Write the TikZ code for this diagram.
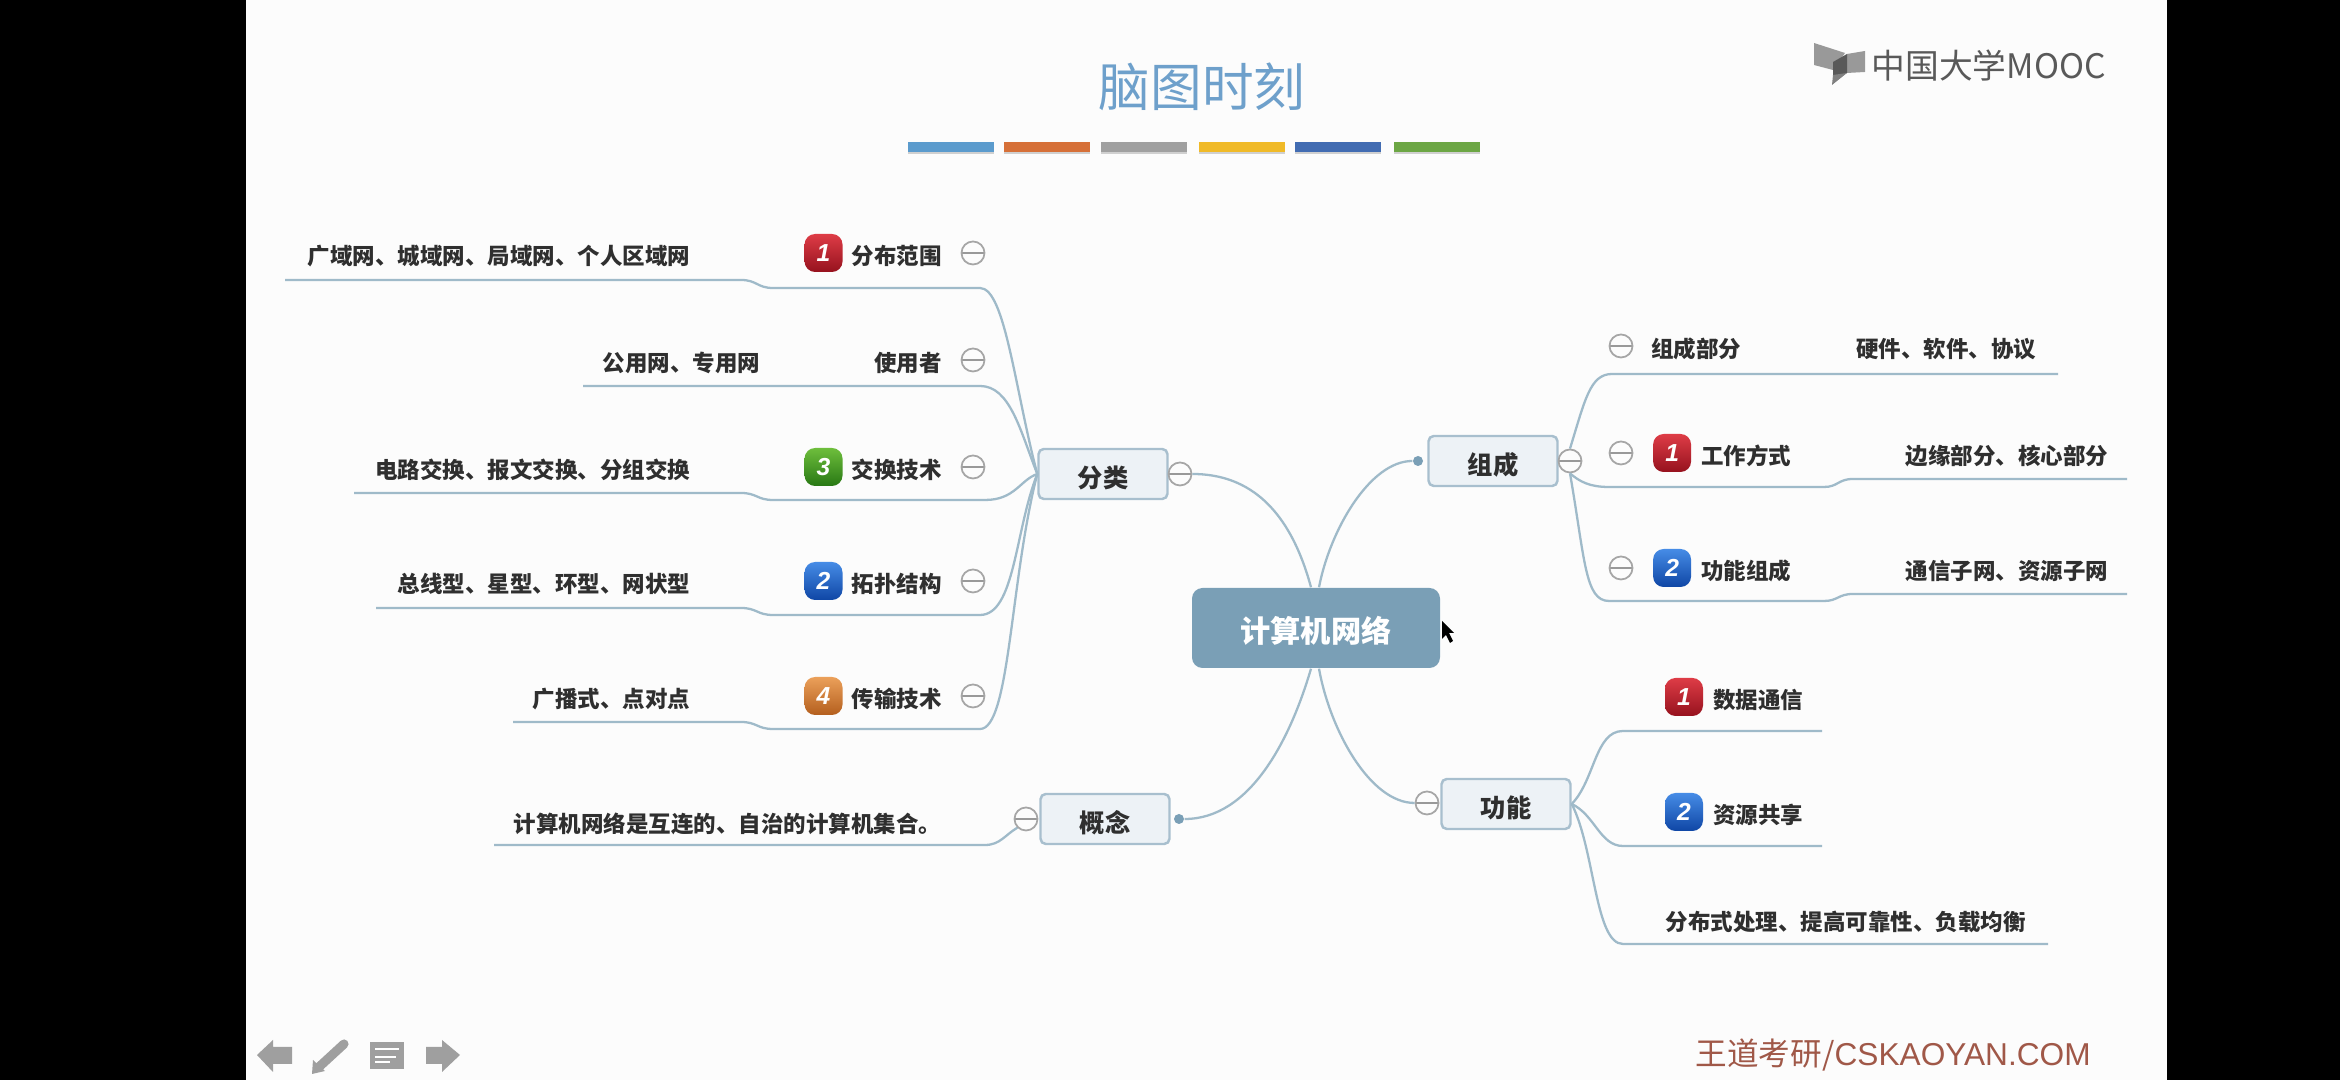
\documentclass[tikz,border=0pt]{standalone}
\usepackage{xcolor}
\usepackage{fontspec}
\setmainfont{Noto Sans CJK SC}
\newfontfamily\latinfont{Liberation Sans}
\usepackage{tikz}
\usetikzlibrary{arrows.meta, positioning, shadows}

\definecolor{slidebg}{HTML}{FCFCFC}
\definecolor{linkblue}{HTML}{9FBAC9}
\definecolor{rootblue}{HTML}{7A9FB6}
\definecolor{branchfill}{HTML}{EDF2F6}
\definecolor{branchline}{HTML}{A8BFCE}
\definecolor{inktext}{HTML}{2F2F2F}

\begin{document}
\begin{tikzpicture}[
  node distance=0.2cm and 0.2cm,
  rootbox/.style={rectangle, fill=rootblue, rounded corners=3pt, minimum width=2.48cm,
             minimum height=0.80cm, text=white, text height=0.33cm, text depth=0.04cm,
             font=\fontsize{8.6pt}{10pt}\selectfont\bfseries},
  branchbox/.style={rectangle, draw=branchline, fill=branchfill, rounded corners=1.5pt, line width=0.7pt,
             minimum width=1.29cm, minimum height=0.50cm, inner ysep=0pt, text=inktext,
             text height=0.30cm, text depth=0.03cm, font=\fontsize{7.2pt}{9pt}\selectfont\bfseries},
  leaf/.style={inner sep=0pt, text=inktext, text height=0.26cm, text depth=0.03cm,
             font=\fontsize{6.4pt}{8pt}\selectfont\bfseries},
  fold/.style={circle, draw=gray!70, fill=slidebg, line width=0.5pt, minimum size=0.23cm, inner sep=0pt,
             path picture={\draw[gray!80, line width=0.5pt] (path picture bounding box.west) -- (path picture bounding box.east);}},
  dotmark/.style={circle, fill=rootblue, minimum size=0.10cm, inner sep=0pt},
  badge/.style={rectangle, rounded corners=3pt, minimum width=0.38cm, minimum height=0.38cm, inner sep=0pt,
             text=white, font=\latinfont\fontsize{7pt}{8pt}\selectfont\bfseries\itshape},
  badgered/.style={badge, top color={rgb,255:red,222;green,60;blue,70}, middle color={rgb,255:red,200;green,32;blue,44}, bottom color={rgb,255:red,150;green,18;blue,30}},
  badgeblue/.style={badge, top color={rgb,255:red,70;green,140;blue,230}, middle color={rgb,255:red,30;green,105;blue,215}, bottom color={rgb,255:red,15;green,70;blue,165}},
  badgegreen/.style={badge, top color={rgb,255:red,110;green,190;blue,60}, middle color={rgb,255:red,65;green,160;blue,30}, bottom color={rgb,255:red,40;green,120;blue,20}},
  badgeorange/.style={badge, top color={rgb,255:red,235;green,160;blue,90}, middle color={rgb,255:red,222;green,128;blue,50}, bottom color={rgb,255:red,180;green,95;blue,30}},
  bar/.style={rectangle, minimum width=0.86cm, minimum height=0.10cm, inner sep=0pt,
             drop shadow={shadow xshift=0pt, shadow yshift=-0.6pt, opacity=0.35}},
  link/.style={draw=linkblue, line width=0.65pt},
  navicon/.style={fill=gray!75, draw=none}
]

% slide
\fill[black] (0,0) rectangle (23.4,10.8);
\fill[slidebg] (2.46,0) rectangle (21.67,10.8);
\useasboundingbox (0,0) rectangle (23.4,10.8);

% title and bars
\node[font=\fontsize{14.7pt}{16pt}\selectfont, text={rgb,255:red,110;green,160;blue,203}] (title) at (12.02,9.93) {脑图时刻};
\node[bar, fill={rgb,255:red,91;green,155;blue,205}, anchor=west] (bar1) at (9.07,9.33) {};
\node[bar, fill={rgb,255:red,214;green,112;blue,56}, right=0.09cm of bar1] (bar2) {};
\node[bar, fill={rgb,255:red,160;green,160;blue,160}, right=0.09cm of bar2] (bar3) {};
\node[bar, fill={rgb,255:red,240;green,186;blue,40}, right=0.11cm of bar3] (bar4) {};
\node[bar, fill={rgb,255:red,66;green,108;blue,178}, right=0.09cm of bar4] (bar5) {};
\node[bar, fill={rgb,255:red,108;green,166;blue,68}, right=0.11cm of bar5] (bar6) {};

% logo
\fill[gray!80] (18.14,10.37) -- (18.45,10.27) -- (18.33,10.10) -- (18.14,10.15) -- cycle;
\fill[gray!80] (18.47,10.26) -- (18.65,10.29) -- (18.65,10.08) -- (18.47,10.07) -- cycle;
\fill[gray!70!black] (18.33,10.18) -- (18.47,10.26) -- (18.47,10.07) -- (18.33,10.0) -- cycle;
\fill[gray] (18.33,10.05) -- (18.47,10.07) -- (18.32,9.95) -- cycle;
\node[font=\fontsize{9.6pt}{11pt}\selectfont, text=gray!70!black, anchor=west, inner sep=0pt] (logo) at (18.71,10.14) {中国大学MOOC};

% centre and branches
\node[rootbox] (net) at (13.16,4.52) {计算机网络};
\node[branchbox] (fenlei) at (11.03,6.06) {分类};
\node[fold] (fenlei-fold) at (11.80,6.06) {};
\node[branchbox] (gainian) at (11.05,2.61) {概念};
\node[fold] (gainian-fold) at (10.26,2.61) {};
\node[dotmark] (gainian-dot) at (11.79,2.61) {};
\node[branchbox] (zucheng) at (14.93,6.19) {组成};
\node[fold] (zucheng-fold) at (15.70,6.19) {};
\node[dotmark] (zucheng-dot) at (14.18,6.19) {};
\node[branchbox] (gongneng) at (15.06,2.76) {功能};
\node[fold] (gongneng-fold) at (14.27,2.77) {};

% left leaves
\node[fold] (fanwei-fold) at (9.73,8.27) {};
\node[leaf, left=0.18cm of fanwei-fold] (fanwei) {分布范围};
\node[badgered, left=0.08cm of fanwei] (fanwei-mark) {1};
\node[leaf, left=1.13cm of fanwei-mark] (fanwei-info) {广域网、城域网、局域网、个人区域网};
\node[fold] (user-fold) at (9.73,7.20) {};
\node[leaf, left=0.18cm of user-fold] (user) {使用者};
\node[leaf, left=1.13cm of user] (user-info) {公用网、专用网};
\node[fold] (swap-fold) at (9.73,6.13) {};
\node[leaf, left=0.18cm of swap-fold] (swap) {交换技术};
\node[badgegreen, left=0.08cm of swap] (swap-mark) {3};
\node[leaf, left=1.13cm of swap-mark] (swap-info) {电路交换、报文交换、分组交换};
\node[fold] (topo-fold) at (9.73,4.99) {};
\node[leaf, left=0.18cm of topo-fold] (topo) {拓扑结构};
\node[badgeblue, left=0.08cm of topo] (topo-mark) {2};
\node[leaf, left=1.13cm of topo-mark] (topo-info) {总线型、星型、环型、网状型};
\node[fold] (trans-fold) at (9.73,3.84) {};
\node[leaf, left=0.18cm of trans-fold] (trans) {传输技术};
\node[badgeorange, left=0.08cm of trans] (trans-mark) {4};
\node[leaf, left=1.13cm of trans-mark] (trans-info) {广播式、点对点};
\node[leaf, anchor=east] (gainian-info) at (9.42,2.59) {计算机网络是互连的、自治的计算机集合。};

% right leaves
\node[fold] (parts-fold) at (16.21,7.34) {};
\node[leaf, right=0.17cm of parts-fold] (parts) {组成部分};
\node[leaf, right=1.14cm of parts] (parts-info) {硬件、软件、协议};
\node[fold] (mode-fold) at (16.21,6.27) {};
\node[badgered, right=0.19cm of mode-fold] (mode-mark) {1};
\node[leaf, right=0.09cm of mode-mark] (mode) {工作方式};
\node[leaf, right=1.13cm of mode] (mode-info) {边缘部分、核心部分};
\node[fold] (func-fold) at (16.21,5.12) {};
\node[badgeblue, right=0.19cm of func-fold] (func-mark) {2};
\node[leaf, right=0.09cm of func-mark] (func) {功能组成};
\node[leaf, right=1.13cm of func] (func-info) {通信子网、资源子网};
\node[badgered] (data-mark) at (16.84,3.83) {1};
\node[leaf, right=0.09cm of data-mark] (data) {数据通信};
\node[badgeblue] (share-mark) at (16.84,2.68) {2};
\node[leaf, right=0.09cm of share-mark] (share) {资源共享};
\node[leaf, anchor=west] (dist) at (16.65,1.61) {分布式处理、提高可靠性、负载均衡};

% free ends of the leaf lines
\coordinate (fanwei-end) at (2.85,8.00);
\coordinate (user-end) at (5.83,6.94);
\coordinate (swap-end) at (3.54,5.87);
\coordinate (topo-end) at (3.76,4.72);
\coordinate (trans-end) at (5.13,3.58);
\coordinate (gainian-end) at (4.94,2.35);
\coordinate (parts-end) at (20.58,7.06);
\coordinate (mode-end) at (21.27,6.01);
\coordinate (func-end) at (21.27,4.86);
\coordinate (data-end) at (18.22,3.49);
\coordinate (share-end) at (18.22,2.34);
\coordinate (dist-end) at (20.48,1.36);

% centre links
\draw[link] (net.north) ++(-0.05,0) .. controls (12.9,5.7) and (12.5,6.06) .. (fenlei-fold.east);
\draw[link] (net.south) ++(-0.05,0) .. controls (12.9,3.4) and (12.5,2.61) .. (gainian-dot.east);
\draw[link] (net.north) ++(0.03,0) .. controls (13.3,5.5) and (13.7,6.19) .. (zucheng-dot.west);
\draw[link] (net.south) ++(0.03,0) .. controls (13.3,3.5) and (13.7,2.77) .. (gongneng-fold.west);

% left links
\draw[link] (fenlei.west) .. controls (10.15,6.9) and (10.05,7.92) .. (9.80,7.92) -- (7.73,7.92) .. controls (7.57,7.92) and (7.57,8.00) .. (7.41,8.00) -- (fanwei-end);
\draw[link] (fenlei.west) .. controls (10.2,6.5) and (10.1,6.94) .. (9.80,6.94) -- (user-end);
\draw[link] (fenlei.west) .. controls (10.2,6.0) and (10.15,5.80) .. (9.85,5.80) -- (7.73,5.80) .. controls (7.57,5.80) and (7.57,5.87) .. (7.41,5.87) -- (swap-end);
\draw[link] (fenlei.west) .. controls (10.15,5.5) and (10.15,4.65) .. (9.80,4.65) -- (7.73,4.65) .. controls (7.57,4.65) and (7.57,4.72) .. (7.41,4.72) -- (topo-end);
\draw[link] (fenlei.west) .. controls (10.1,5.0) and (10.1,3.51) .. (9.80,3.51) -- (7.73,3.51) .. controls (7.57,3.51) and (7.57,3.58) .. (7.41,3.58) -- (trans-end);
\draw[link] (gainian-fold.south west) .. controls (10.05,2.45) and (10.0,2.35) .. (9.85,2.35) -- (gainian-end);

% right links
\draw[link] (zucheng-fold.north) .. controls (15.85,6.8) and (15.9,7.06) .. (16.12,7.06) -- (parts-end);
\draw[link] (zucheng-fold.south) .. controls (15.8,5.98) and (15.9,5.93) .. (16.09,5.93) -- (18.24,5.93) .. controls (18.38,5.93) and (18.38,6.01) .. (18.53,6.01) -- (mode-end);
\draw[link] (zucheng-fold.south) .. controls (15.85,5.2) and (15.85,4.79) .. (16.09,4.79) -- (18.24,4.79) .. controls (18.38,4.79) and (18.38,4.86) .. (18.53,4.86) -- (func-end);
\draw[link] (gongneng.east) .. controls (15.95,3.0) and (15.95,3.49) .. (16.23,3.49) -- (data-end);
\draw[link] (gongneng.east) .. controls (15.95,2.65) and (16.0,2.34) .. (16.23,2.34) -- (share-end);
\draw[link] (gongneng.east) .. controls (15.95,2.3) and (15.95,1.36) .. (16.23,1.36) -- (dist-end);

% mouse pointer
\fill[black] (14.42,4.59) -- (14.42,4.41) -- (14.46,4.45) -- (14.50,4.37) -- (14.53,4.39) -- (14.49,4.47) -- (14.54,4.47) -- cycle;

% footer
\node[font=\fontsize{9pt}{10pt}\selectfont, text={rgb,255:red,160;green,88;blue,72}, anchor=west, inner sep=0pt] (footer) at (16.95,0.25) {王道考研/{\latinfont CSKAOYAN.COM}};

% navigation icons
\begin{scope}[yshift=-0.02cm]
\fill[navicon] (2.57,0.27) -- (2.73,0.42) -- (2.73,0.35) -- (2.92,0.35) -- (2.92,0.18) -- (2.73,0.18) -- (2.73,0.10) -- cycle;
\draw[gray!75, line width=2.6pt, line cap=round] (3.19,0.15) -- (3.44,0.38);
\fill[navicon] (3.12,0.08) -- (3.13,0.22) -- (3.25,0.11) -- cycle;
\fill[navicon] (3.70,0.13) rectangle (4.04,0.40);
\draw[white, line width=0.7pt] (3.75,0.33) -- (3.99,0.33);
\draw[white, line width=0.5pt] (3.75,0.25) -- (3.96,0.25) (3.75,0.20) -- (3.90,0.20);
\fill[navicon] (4.60,0.27) -- (4.42,0.42) -- (4.42,0.35) -- (4.26,0.35) -- (4.26,0.18) -- (4.42,0.18) -- (4.42,0.10) -- cycle;
\end{scope}

\end{tikzpicture}
\end{document}
